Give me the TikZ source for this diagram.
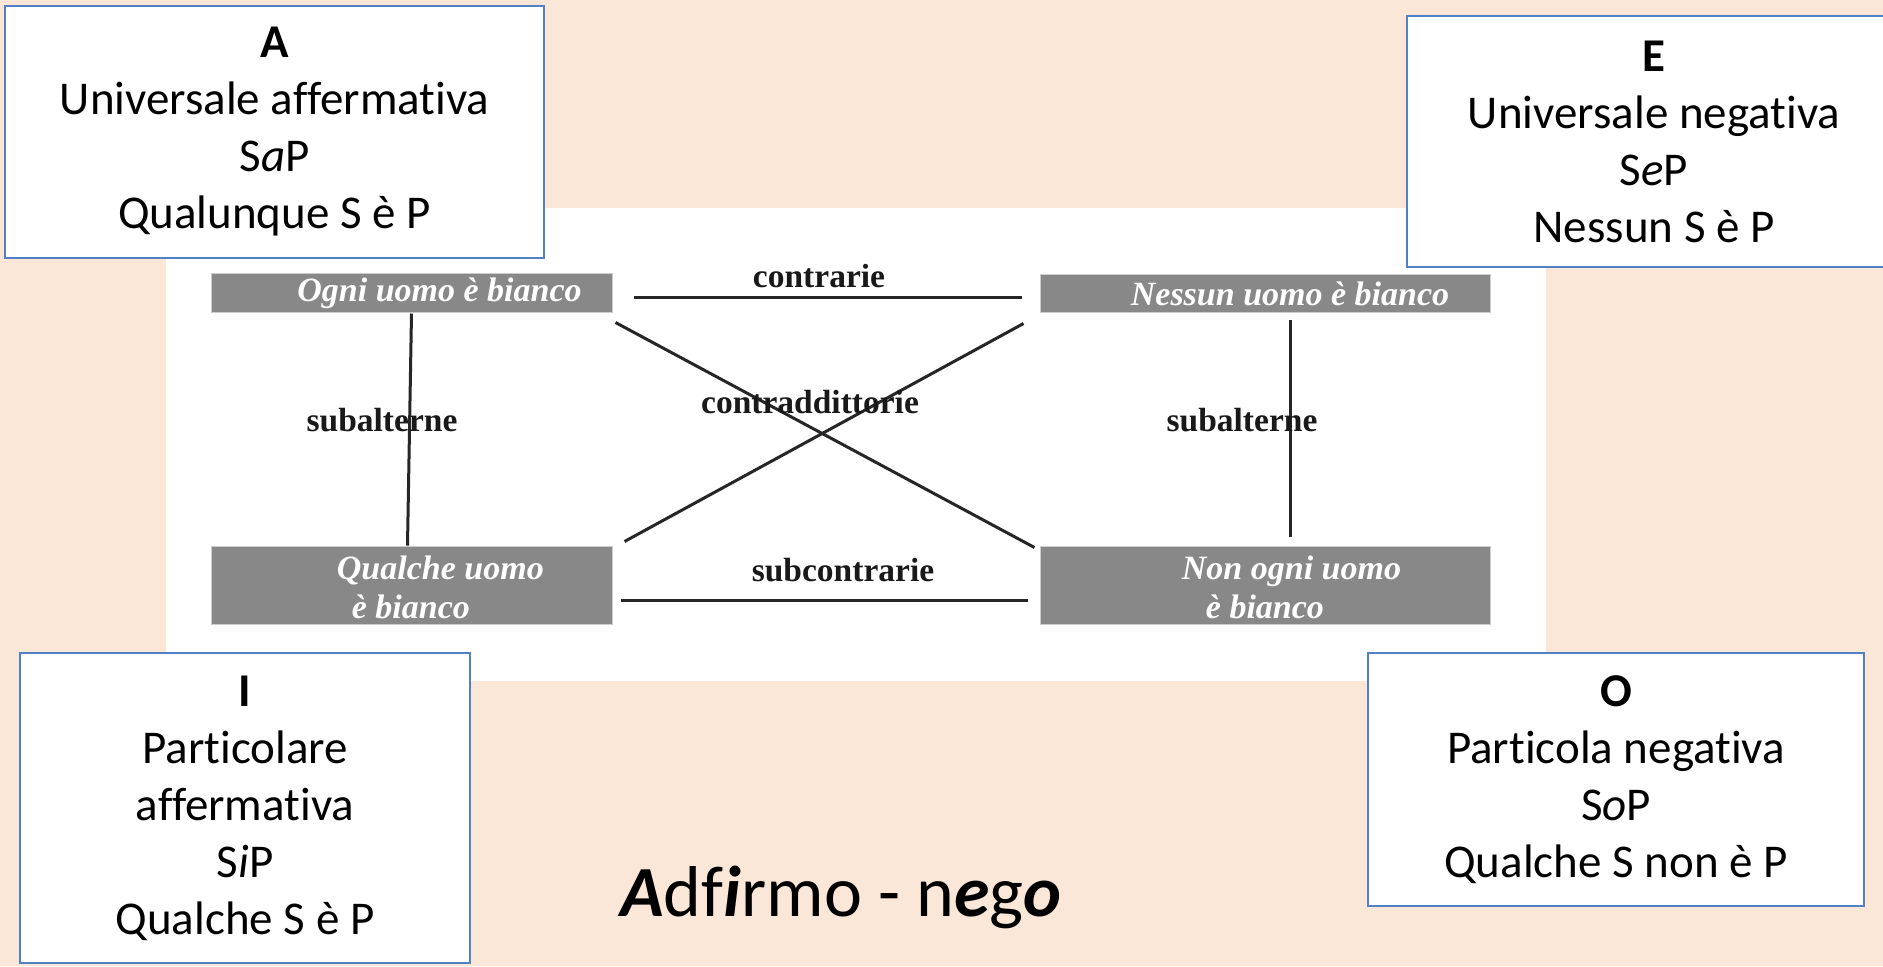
\documentclass[tikz,border=0pt]{standalone}
\usepackage{fontspec}
\setmainfont{Carlito}[Ligatures=NoCommon]
\newfontfamily\serifbf{Liberation Serif}
\usetikzlibrary{positioning}
\usetikzlibrary{calc}
\definecolor{peach}{RGB}{251,231,216}
\definecolor{boxblue}{RGB}{82,128,196}
\definecolor{greybox}{RGB}{136,136,136}

\begin{document}
\begin{tikzpicture}[x=0.5pt,y=-0.5pt]
	\tikzstyle{corner}=[draw=boxblue, line width=1pt, fill=white, align=center, inner sep=0pt, font=\fontsize{23.5}{28.5}\selectfont]
	\tikzstyle{grey}=[fill=greybox, draw=black!20, line width=0.5pt, inner sep=0pt]
	\tikzstyle{greytext}=[text=white, align=left, inner sep=0pt, font=\serifbf\bfseries\itshape\fontsize{17}{19.5}\selectfont]
	\tikzstyle{rel}=[text=black!90, inner sep=0pt, font=\serifbf\bfseries\fontsize{16.75}{20}\selectfont]
	\tikzstyle{link}=[line width=1.5pt, black!85]
	
	\useasboundingbox (0,0) rectangle (1883,966);
	\fill [peach] (0,0) rectangle (1883,966);
	\node at (856,444.5) [fill=white, minimum width=690pt, minimum height=236.5pt, inner sep=0pt] (panel) {};
	
	% il quadrato delle opposizioni
	\node at (411.5,292.5) [grey, minimum width=200.5pt, minimum height=19.5pt] (ogni) {};
	\node at (1265,293) [grey, minimum width=225pt, minimum height=19pt] (nessun) {};
	\node at (411.5,585) [grey, minimum width=200.5pt, minimum height=39pt] (qualche) {};
	\node at (1265,585) [grey, minimum width=225pt, minimum height=39pt] (nonogni) {};
	
	\node at ($(ogni)+(28,1)$) [greytext] (ogni-t) {Ogni uomo è bianco};
	\node at ($(nessun)+(25,1)$) [greytext] (nessun-t) {Nessun uomo è bianco};
	\node at ($(qualche.west)+(126,2)$) [greytext, anchor=west] (qualche-t) {Qualche uomo\\\hspace*{7.5pt}è bianco};
	\node at ($(nonogni.west)+(142,2)$) [greytext, anchor=west] (nonogni-t) {Non ogni uomo\\\hspace*{12pt}è bianco};
	
	\draw [link] ($(ogni.east)+(21,4.5)$) -- ($(nessun.west)+(-18,4)$);
	\draw [link] ($(qualche.east)+(8,15)$) -- ($(nonogni.west)+(-12,15)$);
	\draw [link] ($(ogni.south east)+(3,10)$) -- ($(nonogni.north west)+(-5,2)$);
	\draw [link] ($(qualche.north east)+(12,-4)$) -- ($(nessun.south west)+(-16,11)$);
	\draw [link] ($(ogni.south)+(0,1)$) -- ($(qualche.north)+(-4,0)$);
	\draw [link] ($(nessun.south)+(25,7)$) -- ($(nonogni.north)+(25,-9)$);
	
	\node at (819,276) [rel] (contrarie) {contrarie};
	\node at (843,570) [rel] (subcontrarie) {subcontrarie};
	\node at (810,402) [rel] (contradd) {contraddittorie};
	\node at (382,420) [rel] (sub-l) {subalterne};
	\node at (1242,420) [rel] (sub-r) {subalterne};
	
	% le quattro proposizioni
	\node at (274.5,132) [corner, minimum width=269.5pt, minimum height=126pt] (A) {\textbf{A}\\Universale affermativa\\S\textit{a}P\\Qualunque S è P};
	\node at (1654,141.5) [corner, minimum width=247pt, minimum height=125.5pt] (E) {\textbf{E}\\Universale negativa\\S\textit{e}P\\Nessun S è P};
	\node at (245,808) [corner, minimum width=225pt, minimum height=155pt] (I) {\textbf{I}\\Particolare\\affermativa\\S\textit{i}P\\Qualche S è P};
	\node at (1616,779.5) [corner, minimum width=248pt, minimum height=126.5pt] (O) {\textbf{O}\\Particola negativa\\S\textit{o}P\\Qualche S non è P};
	
	\node at (841,897) [inner sep=0pt, font=\fontsize{36}{40}\selectfont] (motto) {\textbf{\textit{A}}df\textbf{\textit{i}}rmo - n\textbf{\textit{e}}g\textbf{\textit{o}}};
\end{tikzpicture}
\end{document}
